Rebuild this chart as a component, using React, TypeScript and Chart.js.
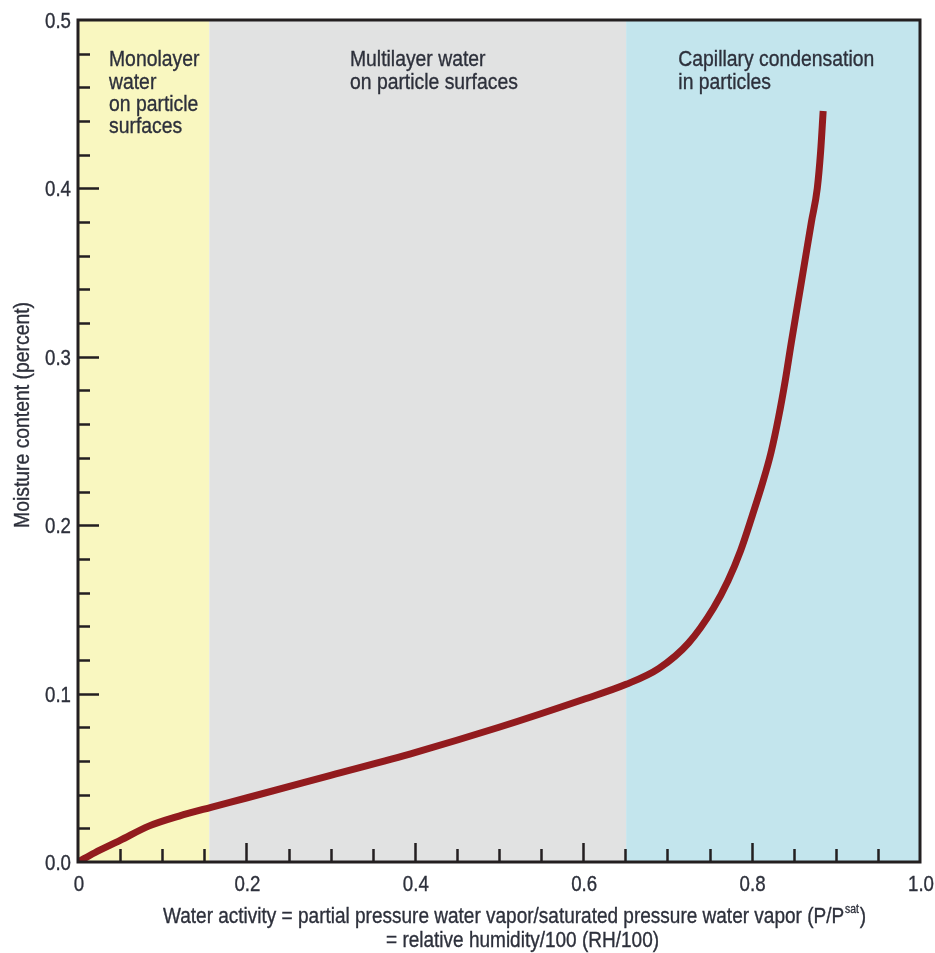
import React, { useEffect, useRef } from "react";
import { Chart, registerables } from "chart.js";

Chart.register(...registerables);

// Curve values (water activity vs moisture content)
const waterActivity = [0, 0.02, 0.05, 0.084, 0.12, 0.158, 0.2, 0.3, 0.4, 0.5, 0.6, 0.651, 0.69, 0.725, 0.755, 0.772, 0.787, 0.801, 0.813, 0.823, 0.832, 0.84, 0.847, 0.855, 0.863, 0.871, 0.878, 0.882, 0.885];
const moistureContent = [0, 0.0055, 0.0128, 0.0213, 0.0273, 0.0325, 0.038, 0.0515, 0.065, 0.08, 0.0965, 0.1055, 0.115, 0.13, 0.151, 0.167, 0.185, 0.206, 0.225, 0.243, 0.264, 0.286, 0.308, 0.332, 0.356, 0.38, 0.4, 0.422, 0.446];

// Background regions (water activity ranges)
const regionStarts = [0, 0.156, 0.651];
const regionEnds = [0.156, 0.651, 1.0];
const regionColors = ["#f9f7c0", "#e1e2e2", "#c3e5ed"];
const regionLabels = [
  ["Monolayer", "water", "on particle", "surfaces"],
  ["Multilayer water", "on particle surfaces"],
  ["Capillary condensation", "in particles"],
];

// Tick labels
const xTickValues = [0, 0.2, 0.4, 0.6, 0.8, 1.0];
const xTickLabels = ["0", "0.2", "0.4", "0.6", "0.8", "1.0"];
const yTickValues = [0, 0.1, 0.2, 0.3, 0.4, 0.5];
const yTickLabels = ["0.0", "0.1", "0.2", "0.3", "0.4", "0.5"];

const xTitleLine1 = "Water activity = partial pressure water vapor/saturated pressure water vapor (P/P";
const xTitleSup = "sat";
const xTitleLine1End = ")";
const xTitleLine2 = "= relative humidity/100 (RH/100)";
const yTitle = "Moisture content (percent)";

const FONT = '"Liberation Sans", Arial, Helvetica, sans-serif';
const TEXT = "#2d303b";
const AXIS = "#231f20";

function drawText(ctx: CanvasRenderingContext2D, text: string, x: number, y: number, align: CanvasTextAlign, sx: number) {
  ctx.save();
  ctx.translate(x, y);
  ctx.scale(sx, 1);
  ctx.textAlign = align;
  ctx.fillText(text, 0, 0);
  ctx.lineWidth = 0.35;
  ctx.strokeStyle = TEXT;
  ctx.strokeText(text, 0, 0);
  ctx.restore();
}

export default function App() {
  const ref = useRef<HTMLCanvasElement>(null);

  useEffect(() => {
    if (!ref.current) return;

    const decor = {
      id: "decor",
      beforeDatasetsDraw(chart: any) {
        const { ctx, chartArea: a, scales } = chart;
        const xs = scales.x;
        ctx.save();
        for (let i = 0; i < regionStarts.length; i++) {
          const x0 = xs.getPixelForValue(regionStarts[i]);
          const x1 = xs.getPixelForValue(regionEnds[i]);
          ctx.fillStyle = regionColors[i];
          ctx.fillRect(x0, a.top, x1 - x0, a.bottom - a.top);
        }
        ctx.restore();
      },
      afterDatasetsDraw(chart: any) {
        const { ctx, chartArea: a, scales } = chart;
        const xs = scales.x;
        const ys = scales.y;
        ctx.save();
        ctx.fillStyle = TEXT;
        ctx.textBaseline = "alphabetic";

        // region labels
        ctx.font = `22px ${FONT}`;
        const labelX = [0.0368, 0.323, 0.713];
        const lineH = [22.3, 23, 23];
        regionLabels.forEach((lines, i) => {
          const px = xs.getPixelForValue(labelX[i]);
          const py = ys.getPixelForValue(0.4725);
          lines.forEach((t, j) => drawText(ctx, t, px, py + j * lineH[i], "left", 0.88));
        });

        // tick labels
        ctx.font = `22px ${FONT}`;
        xTickValues.forEach((v, i) => {
          drawText(ctx, xTickLabels[i], xs.getPixelForValue(v) + 1, a.bottom + 29, "center", 0.85);
        });
        yTickValues.forEach((v, i) => {
          drawText(ctx, yTickLabels[i], a.left - 7, ys.getPixelForValue(v) + 8, "right", 0.85);
        });

        // ticks (inward)
        ctx.strokeStyle = AXIS;
        ctx.lineWidth = 2.5;
        ctx.beginPath();
        for (let k = 1; k < 20; k++) {
          const v = k * 0.05;
          const px = Math.round(xs.getPixelForValue(v)) + 0.5;
          const len = k % 4 === 0 ? 19 : 13;
          ctx.moveTo(px, a.bottom);
          ctx.lineTo(px, a.bottom - len);
        }
        for (let k = 1; k < 25; k++) {
          const v = k * 0.02;
          const py = Math.round(ys.getPixelForValue(v)) + 0.5;
          const len = k % 5 === 0 ? 21 : 12;
          ctx.moveTo(a.left, py);
          ctx.lineTo(a.left + len, py);
        }
        ctx.stroke();

        // frame
        ctx.lineWidth = 3;
        ctx.strokeRect(a.left, a.top, a.right - a.left, a.bottom - a.top);

        // x axis title
        ctx.font = `22px ${FONT}`;
        const w1 = ctx.measureText(xTitleLine1).width;
        ctx.font = `12px ${FONT}`;
        const wSup = ctx.measureText(xTitleSup).width;
        ctx.font = `22px ${FONT}`;
        const wEnd = ctx.measureText(xTitleLine1End).width;
        const targetW = 703;
        const sxT = targetW / (w1 + wSup + 2 + wEnd);
        const t1x = 163;
        const t1y = 923;
        drawText(ctx, xTitleLine1, t1x, t1y, "left", sxT);
        ctx.font = `12px ${FONT}`;
        drawText(ctx, xTitleSup, t1x + (w1 + 1) * sxT, t1y - 10, "left", sxT);
        ctx.font = `22px ${FONT}`;
        drawText(ctx, xTitleLine1End, t1x + (w1 + wSup + 2) * sxT, t1y, "left", sxT);
        drawText(ctx, xTitleLine2, 386, 947, "left", sxT);

        // y axis title
        const wy = ctx.measureText(yTitle).width;
        ctx.translate(29, 415);
        ctx.rotate(-Math.PI / 2);
        drawText(ctx, yTitle, 0, 0, "center", 226 / wy);
        ctx.restore();
      },
    };

    const chart = new Chart(ref.current, {
      type: "line",
      data: {
        datasets: [
          {
            data: waterActivity.map((x, i) => ({ x, y: moistureContent[i] })),
            borderColor: "#921b1e",
            borderWidth: 7,
            borderCapStyle: "butt",
            borderJoinStyle: "round",
            pointRadius: 0,
            cubicInterpolationMode: "monotone",
            fill: false,
          },
        ],
      },
      options: {
        animation: false,
        responsive: false,
        devicePixelRatio: 1,
        layout: { padding: { left: 0, top: 20, right: 15, bottom: 0 } },
        plugins: { legend: { display: false }, tooltip: { enabled: false } },
        scales: {
          x: {
            type: "linear",
            min: 0,
            max: 1,
            grid: { display: false, drawTicks: false },
            border: { display: false },
            ticks: { display: false, stepSize: 0.2 },
            afterFit: (s: any) => {
              s.height = 91;
              s.paddingLeft = 0;
              s.paddingRight = 0;
            },
          },
          y: {
            type: "linear",
            min: 0,
            max: 0.5,
            grid: { display: false, drawTicks: false },
            border: { display: false },
            ticks: { display: false, stepSize: 0.1 },
            afterFit: (s: any) => {
              s.width = 78;
              s.paddingTop = 0;
              s.paddingBottom = 0;
            },
          },
        },
      },
      plugins: [decor],
    } as any);

    return () => chart.destroy();
  }, []);

  return (
    <div style={{ position: "absolute", left: 0, top: 0, width: 935, height: 953, background: "#fff" }}>
      <canvas ref={ref} width={935} height={953} style={{ display: "block", width: 935, height: 953 }} />
    </div>
  );
}
